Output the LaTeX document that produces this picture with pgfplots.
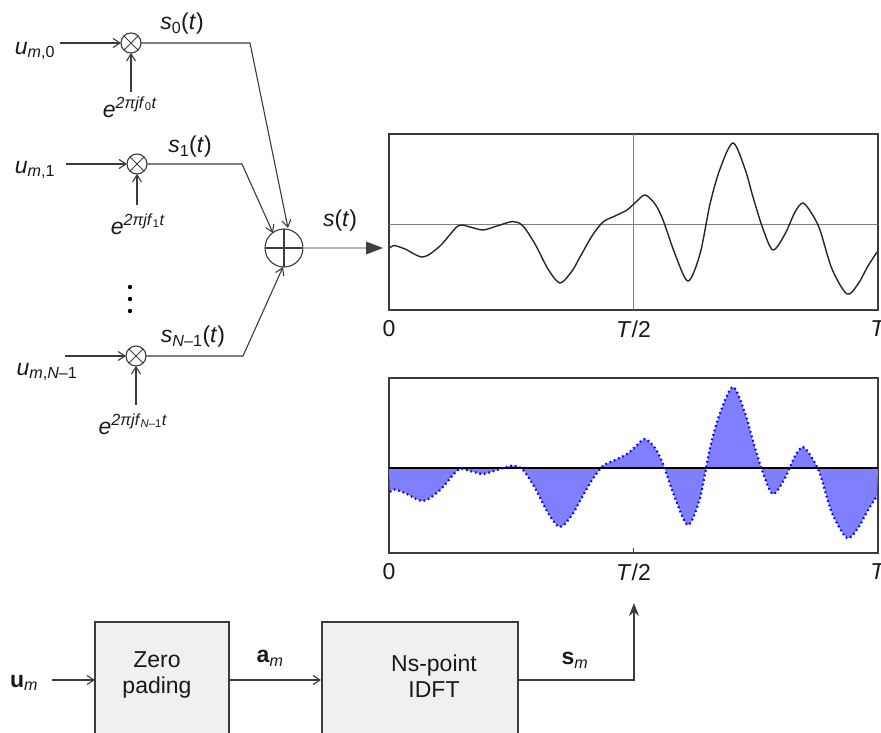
\documentclass[border=0pt]{standalone}
\usepackage{pgfplots}
\pgfplotsset{compat=1.18}
\usepackage{pgfplotstable}
\usepgfplotslibrary{fillbetween}
\usetikzlibrary{arrows.meta}
\usepackage{fontspec}
\setmainfont{Liberation Sans}
\definecolor{ln}{RGB}{60,60,60}
\definecolor{fillb}{RGB}{128,128,255}
\pgfplotstableread{
x v
390 -24
394 -21.5
405 -25
423 -33
440 -22
458 -2
470 -3
483 -6
497 -2
513 2.5
523 -2
535 -20
548 -45
560 -59
572 -47
580 -33
592 -12
603 2
615 8
627 14
636 22
645 29
655 20
663 4
675 -30
688 -57
700 -30
710 20
720 55
733 81
745 55
753 27
763 -5
773 -26
785 -10
795 12
803 21
812 10
820 -6
832 -45
847 -70
858 -60
868 -42
877 -28
}\sig
\begin{document}
\begin{tikzpicture}[every node/.style={font=\fontsize{23}{26}\selectfont, text=black!90}]
\tikzset{arr/.style={ln, line width=1.1pt, -{Straight Barb[length=7pt,width=9pt]}}}
% ---------- top axis
\begin{axis}[at={(389pt,-310pt)}, anchor=south west,
  width=489pt, height=176pt, scale only axis,
  xmin=389, xmax=878, ymin=-86, ymax=90,
  axis line style={ln, line width=1.4pt},
  xtick={389,633.5,878}, xticklabels={0,\textit{T}/2,\textit{T}},
  ytick=\empty, xtick pos=lower,
  major tick length=5pt, tick style={ln, line width=1.4pt},
  xticklabel style={font=\fontsize{23}{26}\selectfont, text=black!90, yshift=-7pt}]
\addplot[gray, line width=0.8pt] coordinates {(389,0) (878,0)};
\addplot[gray, line width=0.8pt] coordinates {(633.5,-86) (633.5,90)};
\addplot[black!85, line width=1.4pt, smooth] table[x=x,y=v]{\sig};
\end{axis}
% ---------- bottom axis
\begin{axis}[at={(389pt,-553pt)}, anchor=south west,
  width=489pt, height=175pt, scale only axis,
  xmin=389, xmax=878, ymin=-85, ymax=90,
  axis line style={ln, line width=1.4pt},
  xtick={389,633.5,878}, xticklabels={0,\textit{T}/2,\textit{T}},
  ytick=\empty, xtick pos=lower,
  major tick length=5pt, tick style={ln, line width=1.4pt},
  xticklabel style={font=\fontsize{23}{26}\selectfont, text=black!90, yshift=-7pt}]
\addplot[name path=c, draw=none, smooth] table[x=x,y=v]{\sig};
\addplot[name path=z, draw=none] coordinates {(389,0) (878,0)};
\addplot[fillb] fill between[of=c and z];
\addplot[black, line width=1.3pt] coordinates {(389,0) (878,0)};
\addplot[blue, line width=2.2pt, smooth, dash pattern=on 1.6pt off 3pt] table[x=x,y=v]{\sig};
\end{axis}
% ---------- diagram
\begin{scope}[x=1pt,y=-1pt]
% row 0
\node at (35,51) {\textit{u}\textsubscript{\textit{m},0}};
\draw[arr] (60,43) -- (121,43);
\draw[ln, line width=1.1pt] (131,43) circle (10pt);
\draw[ln, line width=0.9pt] (131,43) ++(-7pt,-7pt) -- ++(14pt,14pt) (131,43) ++(-7pt,7pt) -- ++(14pt,-14pt);
\draw[arr] (131,92) -- (131,53);
\node at (130,107) {\textit{e}\textsuperscript{\textit{2πjf}\textsubscript{0}\textit{t}}};
\draw[ln, line width=1.1pt, -{Straight Barb[length=7pt,width=9pt]}] (141,43) -- (250,43) -- (288,228);
\node at (182,24) {\textit{s}\textsubscript{0}(\textit{t})};
% row 1
\node at (35,170) {\textit{u}\textsubscript{\textit{m},1}};
\draw[arr] (66,164) -- (127,164);
\draw[ln, line width=1.1pt] (137,164) circle (10pt);
\draw[ln, line width=0.9pt] (137,164) ++(-7pt,-7pt) -- ++(14pt,14pt) (137,164) ++(-7pt,7pt) -- ++(14pt,-14pt);
\draw[arr] (137,205) -- (137,174);
\node at (138,224) {\textit{e}\textsuperscript{\textit{2πjf}\textsubscript{1}\textit{t}}};
\draw[ln, line width=1.1pt, -{Straight Barb[length=7pt,width=9pt]}] (147,164) -- (242,164) -- (273,233);
\node at (190,147) {\textit{s}\textsubscript{1}(\textit{t})};
% dots
\fill[black] (130,287) circle (2.2pt) (130,299) circle (2.2pt) (130,311) circle (2.2pt);
% row N-1
\node at (47,372) {\textit{u}\textsubscript{\textit{m},\textit{N}–1}};
\draw[arr] (65,356) -- (126,356);
\draw[ln, line width=1.1pt] (136,356) circle (10pt);
\draw[ln, line width=0.9pt] (136,356) ++(-7pt,-7pt) -- ++(14pt,14pt) (136,356) ++(-7pt,7pt) -- ++(14pt,-14pt);
\draw[arr] (136,405) -- (136,366);
\node at (133,424) {\textit{e}\textsuperscript{\textit{2πjf}\textsubscript{\textit{N}–1}\textit{t}}};
\draw[ln, line width=1.1pt, -{Straight Barb[length=7pt,width=9pt]}] (146,356) -- (243,356) -- (283,267);
\node at (193,337) {\textit{s}\textsubscript{\textit{N}–1}(\textit{t})};
% sum
\draw[ln, line width=1.1pt] (284,248) circle (19pt);
\draw[ln, line width=1.1pt] (265,248) -- (303,248) (284,229) -- (284,267);
\draw[gray!55, line width=2.8pt] (303,248) -- (368,248);
\fill[black!75] (383,248) -- (366,241.5) -- (366,254.5) -- cycle;
\node at (340,221) {\textit{s}(\textit{t})};
% bottom blocks
\node at (24,683) {\textbf{u}\textsubscript{\textit{m}}};
\draw[arr] (52,680) -- (95,680);
\draw[ln, line width=1.1pt, fill=gray!12] (95,622) rectangle (229,760);
\node[align=center] at (157,675) {Zero\\pading};
\draw[arr] (229,680) -- (321,680);
\node at (270,658) {\textbf{a}\textsubscript{\textit{m}}};
\draw[ln, line width=1.1pt, fill=gray!12] (322,622) rectangle (518,760);
\node[align=center] at (434,676) {Ns-point\\IDFT};
\draw[ln, line width=1.1pt, -{Stealth[length=13pt,width=10pt]}] (518,680) -- (634,680) -- (634,603);
\node at (575,660) {\textbf{s}\textsubscript{\textit{m}}};
\end{scope}
\pgfresetboundingbox
\path[use as bounding box] (0pt,0pt) rectangle (881pt,-733pt);
\end{tikzpicture}
\end{document}
